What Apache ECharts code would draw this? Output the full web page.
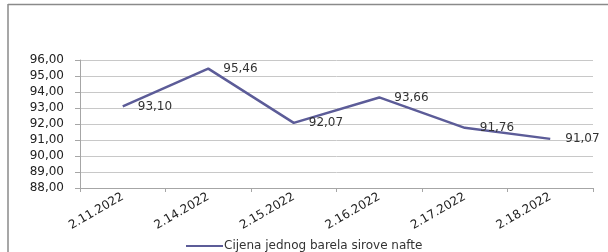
<!DOCTYPE html>
<html>
<head>
<meta charset="utf-8">
<script src="https://cdn.jsdelivr.net/npm/echarts@6/dist/echarts.min.js"></script>
<style>
  html, body { margin: 0; padding: 0; background: #fff; overflow: hidden; }
  #chart { width: 608px; height: 252px; }
</style>
</head>
<body>
<div id="chart"></div>
<script>
// podaci
const dates = ['2.11.2022', '2.14.2022', '2.15.2022', '2.16.2022', '2.17.2022', '2.18.2022'];
const prices = [93.10, 95.46, 92.07, 93.66, 91.76, 91.07];
const seriesName = 'Cijena jednog barela sirove nafte';
const yMin = 88, yMax = 96, yStep = 1;

const fmt = v => v.toFixed(2).replace('.', ',');
const font = 'DejaVu Sans';

const chart = echarts.init(document.getElementById('chart'));
chart.setOption({
    animation: false,
    // okvir grafikona (gornji i lijevi rub)
    graphic: [
        { type: 'line', shape: { x1: 8, y1: 4.5, x2: 608, y2: 4.5 }, style: { stroke: '#8a8a8a', lineWidth: 1.5 }, silent: true },
        { type: 'line', shape: { x1: 8, y1: 4, x2: 8, y2: 252 }, style: { stroke: '#8a8a8a', lineWidth: 1.5 }, silent: true }
    ],
    grid: { left: 80, right: 15, top: 60, bottom: 64 },
    legend: {
        left: 181, top: 235,
        icon: 'rect', itemWidth: 37, itemHeight: 2, itemGap: 10,
        textStyle: { fontFamily: font, fontSize: 12, color: '#333', padding: [0, 0, 0, -4] },
        data: [seriesName]
    },
    xAxis: {
        type: 'category',
        data: dates,
        boundaryGap: true,
        axisLine: { lineStyle: { color: '#a6a6a6', width: 1 } },
        axisTick: { show: true, length: 4, lineStyle: { color: '#a6a6a6' } },
        axisLabel: { rotate: 30, margin: 8, fontFamily: font, fontSize: 12, color: '#222' }
    },
    yAxis: {
        type: 'value',
        min: yMin, max: yMax, interval: yStep,
        axisLine: { show: true, lineStyle: { color: '#a6a6a6', width: 1 } },
        axisTick: { show: true, length: 5, lineStyle: { color: '#a6a6a6' } },
        splitLine: { lineStyle: { color: '#c8c8c8', width: 1 } },
        axisLabel: { formatter: fmt, margin: 16, fontFamily: font, fontSize: 12, color: '#222' }
    },
    series: [{
        name: seriesName,
        type: 'line',
        data: prices,
        symbol: 'circle',
        symbolSize: 0,
        showSymbol: true,
        lineStyle: { color: '#5c5c98', width: 2.5 },
        itemStyle: { color: '#5c5c98' },
        label: {
            show: true, position: 'right', distance: 15,
            formatter: p => fmt(p.value),
            fontFamily: font, fontSize: 12, color: '#333'
        }
    }]
});
</script>
</body>
</html>
